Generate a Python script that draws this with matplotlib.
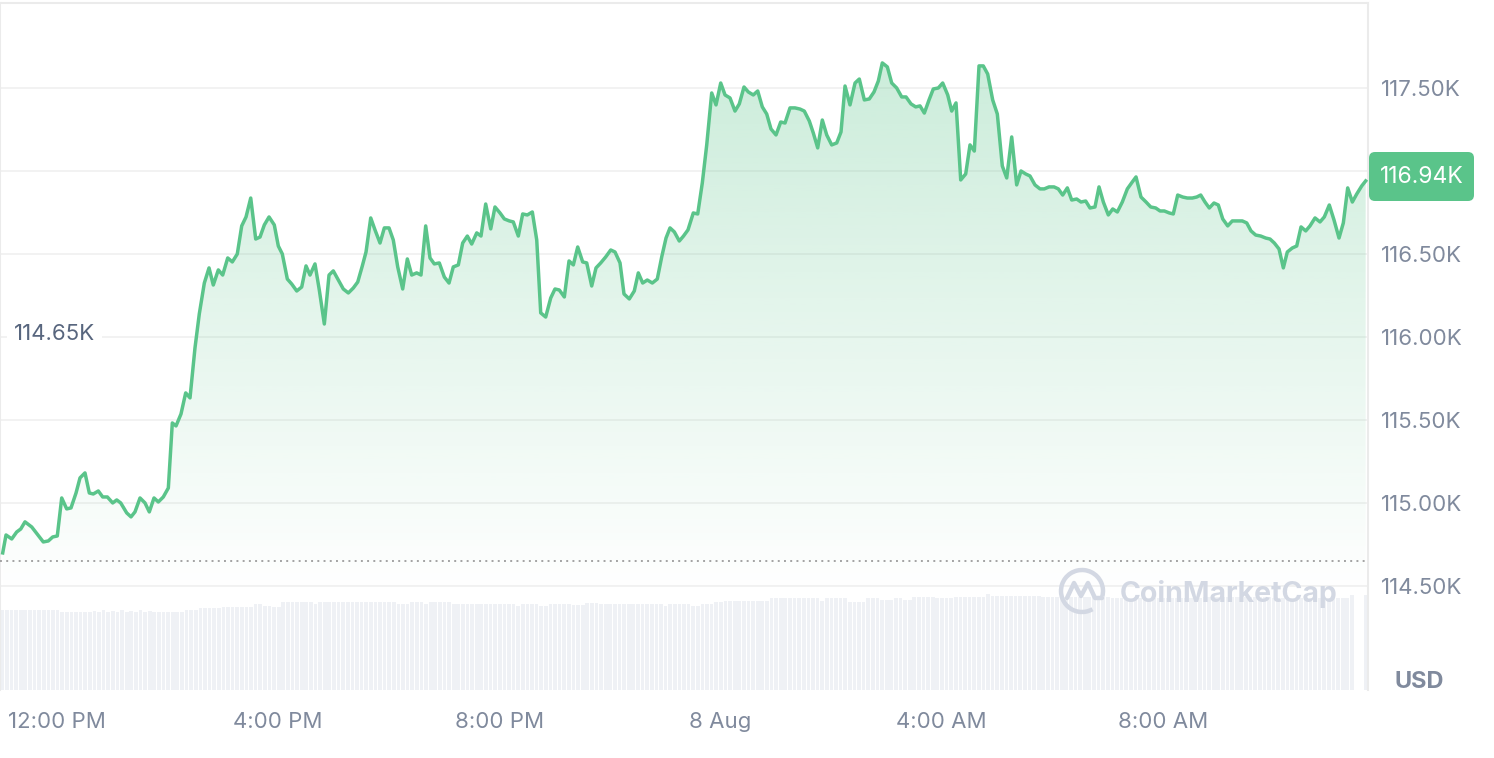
import numpy as np
import matplotlib.pyplot as plt
from matplotlib.patches import FancyBboxPatch, Arc, PathPatch
from matplotlib.path import Path
from matplotlib.transforms import IdentityTransform

plt.rcParams['font.family'] = ['Inter', 'DejaVu Sans']

# hours after 12:00 PM (7 Aug), price in thousand USD
hours = [
    -0.982, -0.922, -0.819, -0.729, -0.656, -0.579, -0.457, -0.248, -0.157, -0.078,
    0.005, 0.085, 0.175, 0.253, 0.344, 0.416, 0.506, 0.584, 0.656, 0.747,
    0.826, 0.910, 1.007, 1.080, 1.152, 1.260, 1.338, 1.410, 1.501, 1.591,
    1.669, 1.754, 1.832, 1.922, 2.013, 2.085, 2.152, 2.242, 2.327, 2.405,
    2.495, 2.573, 2.664, 2.749, 2.826, 2.917, 2.996, 3.087,
    3.170, 3.260, 3.340, 3.418, 3.503, 3.593, 3.671, 3.749, 3.834, 3.929,
    4.002, 4.074, 4.165, 4.244, 4.335, 4.425, 4.503, 4.575, 4.665, 4.743,
    4.834, 4.919, 4.996, 5.087, 5.177, 5.268, 5.358, 5.438, 5.521, 5.588,
    5.673, 5.750, 5.841, 5.919, 6.004, 6.081, 6.161, 6.251, 6.335, 6.414,
    6.504, 6.582, 6.667, 6.745, 6.823, 6.913, 7.004, 7.089, 7.166,
    7.257, 7.336, 7.420, 7.499, 7.590, 7.667, 7.752, 7.843, 7.920, 8.011,
    8.089, 8.179, 8.251, 8.342, 8.421, 8.505, 8.595, 8.675, 8.747, 8.837,
    8.928, 9.005, 9.083, 9.174, 9.259, 9.337, 9.416, 9.506, 9.579, 9.669,
    9.747, 9.832, 9.922, 10.013, 10.090, 10.181, 10.253, 10.349, 10.439, 10.512,
    10.591, 10.674, 10.765, 10.855, 10.935, 11.013, 11.085, 11.163, 11.253,
    11.329, 11.410, 11.506, 11.586, 11.669, 11.749, 11.839, 11.917, 12.002, 12.080,
    12.170, 12.260, 12.338, 12.423, 12.501, 12.591, 12.671, 12.754, 12.834, 12.911,
    13.002, 13.087, 13.165, 13.255, 13.345, 13.436, 13.513, 13.604, 13.676, 13.756,
    13.839, 13.919, 14.009, 14.100, 14.177, 14.250, 14.340, 14.431, 14.508, 14.599,
    14.689, 14.774, 14.852, 14.924, 15.015, 15.094, 15.184,
    15.275, 15.353, 15.443, 15.528, 15.606, 15.684, 15.769, 15.846, 15.937, 16.016,
    16.107, 16.179, 16.257, 16.342, 16.432, 16.510, 16.588, 16.673, 16.750, 16.830,
    16.920, 17.004, 17.094, 17.174, 17.264, 17.354, 17.432, 17.517, 17.594, 17.685,
    17.776, 17.853, 17.939, 18.029, 18.107, 18.186, 18.270, 18.349, 18.439, 18.517,
    18.602, 18.680, 18.770, 18.843, 18.921, 19.011, 19.091, 19.174, 19.264, 19.355,
    19.445,
    19.512, 19.602, 19.693, 19.778, 19.868, 19.946, 20.024, 20.114, 20.186, 20.266,
    20.356, 20.439, 20.530, 20.609, 20.682, 20.759, 20.837, 20.922, 21.000, 21.080,
    21.170, 21.253, 21.344, 21.434, 21.514, 21.591, 21.676, 21.767, 21.857, 21.935,
    22.013, 22.098, 22.176, 22.248, 22.338, 22.418, 22.496, 22.581, 22.658, 22.749,
    22.839, 22.917, 23.007, 23.092, 23.183, 23.261, 23.340, 23.424, 23.503, 23.594,
    23.665,
]
price_k = [
    114.699, 114.807, 114.783, 114.825, 114.843, 114.886, 114.855, 114.765, 114.771, 114.795,
    114.801, 115.030, 114.964, 114.970, 115.060, 115.151, 115.181, 115.060, 115.054, 115.072,
    115.036, 115.036, 115.000, 115.018, 115.000, 114.940, 114.916, 114.946, 115.030, 115.000,
    114.946, 115.030, 115.006, 115.036, 115.090, 115.482, 115.464, 115.536, 115.663, 115.633,
    115.934, 116.139, 116.325, 116.416, 116.313, 116.404, 116.373, 116.476,
    116.452, 116.500, 116.669, 116.723, 116.837, 116.590, 116.602, 116.675, 116.723, 116.675,
    116.548, 116.500, 116.349, 116.319, 116.277, 116.301, 116.428, 116.373, 116.440, 116.283,
    116.078, 116.373, 116.398, 116.343, 116.289, 116.265, 116.295, 116.331, 116.428, 116.512,
    116.717, 116.645, 116.566, 116.657, 116.657, 116.584, 116.422, 116.289, 116.470, 116.373,
    116.386, 116.373, 116.669, 116.476, 116.440, 116.446, 116.361, 116.325, 116.422,
    116.434, 116.566, 116.608, 116.560, 116.627, 116.608, 116.801, 116.651, 116.783, 116.747,
    116.711, 116.699, 116.693, 116.608, 116.741, 116.735, 116.753, 116.584, 116.145, 116.120,
    116.235, 116.289, 116.283, 116.241, 116.458, 116.434, 116.542, 116.452, 116.446, 116.307,
    116.416, 116.446, 116.482, 116.524, 116.512, 116.446, 116.259, 116.229, 116.277, 116.386,
    116.325, 116.343, 116.325, 116.349, 116.482, 116.596, 116.657, 116.633, 116.578,
    116.608, 116.645, 116.747, 116.741, 116.928, 117.157, 117.470, 117.398, 117.530, 117.458,
    117.440, 117.361, 117.404, 117.506, 117.476, 117.458, 117.482, 117.386, 117.343, 117.253,
    117.217, 117.295, 117.289, 117.380, 117.380, 117.373, 117.361, 117.301, 117.229, 117.139,
    117.307, 117.217, 117.157, 117.169, 117.235, 117.512, 117.398, 117.530, 117.554, 117.428,
    117.434, 117.476, 117.542, 117.651, 117.627, 117.530, 117.500,
    117.446, 117.446, 117.404, 117.386, 117.392, 117.349, 117.428, 117.494, 117.500, 117.530,
    117.458, 117.361, 117.410, 116.946, 116.982, 117.157, 117.120, 117.633, 117.633, 117.584,
    117.428, 117.343, 117.030, 116.958, 117.205, 116.916, 117.000, 116.982, 116.970, 116.916,
    116.892, 116.892, 116.904, 116.904, 116.892, 116.855, 116.898, 116.825, 116.831, 116.813,
    116.819, 116.777, 116.783, 116.904, 116.813, 116.735, 116.771, 116.753, 116.813, 116.892,
    116.934,
    116.964, 116.843, 116.813, 116.783, 116.777, 116.759, 116.759, 116.747, 116.741, 116.855,
    116.843, 116.837, 116.837, 116.843, 116.855, 116.813, 116.777, 116.807, 116.795, 116.711,
    116.669, 116.699, 116.699, 116.699, 116.687, 116.639, 116.614, 116.608, 116.596, 116.590,
    116.566, 116.530, 116.416, 116.512, 116.536, 116.548, 116.663, 116.639, 116.669, 116.717,
    116.693, 116.723, 116.795, 116.705, 116.596, 116.687, 116.898, 116.813, 116.861, 116.910,
    116.940,
]

# volume bars (5 min each), read as (number of bars, relative height)
volume_runs = [
    (13, 80), (7, 78), (1, 79), (1, 78), (1, 80), (1, 78), (1, 79), (1, 78), (1, 80), (1, 78),
    (1, 79), (1, 78), (1, 80), (1, 78), (1, 79), (3, 78), (4, 78), (3, 80), (5, 82), (7, 83),
    (2, 86), (2, 84), (2, 83), (7, 88), (1, 86), (17, 88), (3, 86), (3, 88), (1, 86), (5, 88),
    (10, 86), (4, 86), (1, 84), (4, 86), (2, 84), (5, 86), (3, 85), (3, 87), (14, 86), (1, 84),
    (5, 86), (2, 84), (3, 86), (2, 88), (10, 89), (11, 92), (1, 89), (5, 92), (4, 88), (3, 92),
    (3, 90), (2, 92), (2, 90), (5, 93), (4, 92), (7, 93), (1, 96), (4, 94), (7, 94), (15, 93),
    (20, 92), (15, 93), (17, 92), (1, 95), (2, 0), (1, 95),
]
volume = np.repeat([h for n, h in volume_runs], [n for n, h in volume_runs])

yticks = [114.5, 115.0, 115.5, 116.0, 116.5, 117.0, 117.5]
xticks = [0, 4, 8, 12, 16, 20]
xlabels = ['12:00 PM', '4:00 PM', '8:00 PM', '8 Aug', '4:00 AM', '8:00 AM']
open_price = 114.65
last_price = '116.94K'

GREEN = '#5ac48a'
LABEL = '#808a9d'
x0, x1 = -1.031, 23.707
y0, y1 = 113.873, 118.012

fig = plt.figure(figsize=(14.94, 7.58), dpi=100)
rect = [0, 68 / 758, 1368 / 1494, 687 / 758]

# volume in its own axes behind the price
axv = fig.add_axes(rect, zorder=0)
axv.set_xlim(x0, x1)
axv.set_ylim(0, 687)
axv.axis('off')
bw = (x1 - x0) / len(volume)
bx = x0 + (np.arange(len(volume)) + 0.5) * bw
axv.bar(bx, volume, width=bw * 0.8, color='#eff1f5', linewidth=0)

ax = fig.add_axes(rect, zorder=1)
ax.patch.set_alpha(0)
ax.set_xlim(x0, x1)
ax.set_ylim(y0, y1)

# gradient under the line
poly = ax.fill_between(hours, price_k, y0, color='none')
grad = np.zeros((256, 1, 4))
grad[..., :3] = [0x5a / 255, 0xc4 / 255, 0x8a / 255]
levels = np.linspace(y0, y1, 256)
grad[:, 0, 3] = np.clip(0.30 * (levels - 114.45) / 3.1, 0, 0.33)
im = ax.imshow(grad, extent=[x0, x1, y0, y1], origin='lower', aspect='auto', zorder=2)
im.set_clip_path(poly.get_paths()[0], transform=ax.transData)

ax.plot(hours, price_k, color=GREEN, lw=2.5, solid_joinstyle='round', zorder=4)
ax.axhline(open_price, xmin=0, xmax=0.998, color='#a3a3a3', lw=1.4, ls=(0, (1, 2.2)), zorder=3)

# the 117.00K label sits under the last-price badge, so it is left blank
ax.set_yticks(yticks)
ax.set_yticklabels(['' if v == 117.0 else f'{v:.2f}K' for v in yticks])
ax.set_xticks(xticks)
ax.set_xticklabels(xlabels)
ax.yaxis.tick_right()
ax.tick_params(axis='y', length=0, pad=9, labelsize=16, labelcolor=LABEL)
ax.tick_params(axis='x', length=0, pad=16, labelsize=16, labelcolor=LABEL)
ax.grid(axis='y', color='#efefef', lw=1.1, zorder=1)
ax.spines['bottom'].set_visible(False)
for s in ['top', 'left', 'right']:
    ax.spines[s].set_color('#ebebeb')
    ax.spines[s].set_linewidth(1.5)

ax.text(14 / 1368, (690 - 334) / 687, f'{open_price:.2f}K', transform=ax.transAxes,
        ha='left', va='center', fontsize=16, color='#58667e', zorder=5,
        bbox=dict(boxstyle='square,pad=0.3', fc='white', ec='none'))

# last price badge
badge = FancyBboxPatch((1369, 557), 105, 49, boxstyle='round,pad=0,rounding_size=6',
                       transform=IdentityTransform(), fc=GREEN, ec='none', zorder=10)
fig.add_artist(badge)
fig.text(1421.5 / 1494, (758 - 177) / 758, last_price, ha='center', va='center',
         color='white', fontsize=16.5, zorder=11)

fig.text(1419 / 1494, (758 - 682) / 758, 'USD', ha='center', va='center',
         color=LABEL, fontsize=17, fontweight='bold')

# watermark
wm = '#d3d8e3'
fig.add_artist(Arc((1082, 167), 42, 42, theta1=-15, theta2=300, transform=IdentityTransform(),
                   color=wm, lw=3.2, zorder=5))
wave = Path([(1067, 160), (1074, 175), (1081, 162), (1088, 175), (1095, 160), (1102, 160)])
fig.add_artist(PathPatch(wave, transform=IdentityTransform(), fc='none', ec=wm, lw=3.2,
                         capstyle='round', joinstyle='round', zorder=5))
fig.text(1120 / 1494, (758 - 594) / 758, 'CoinMarketCap', ha='left', va='center',
         fontsize=20.5, fontweight='bold', color=wm, zorder=5)

fig.savefig('out.png', dpi=100)
